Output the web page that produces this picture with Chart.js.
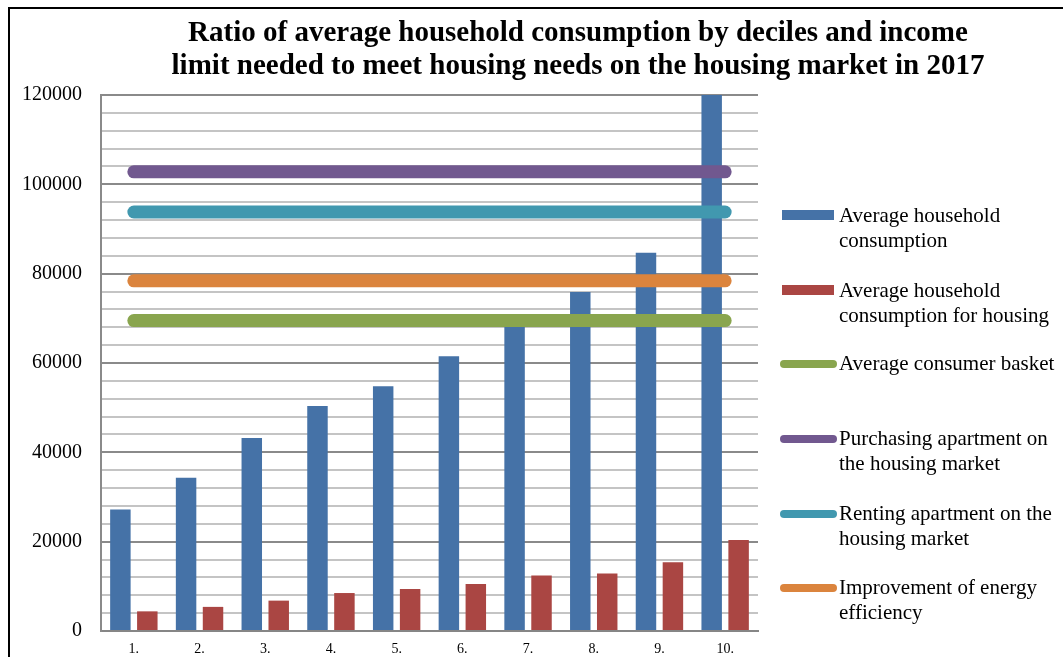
<!DOCTYPE html>
<html>
<head>
<meta charset="utf-8">
<script src="https://cdn.jsdelivr.net/npm/chart.js@4"></script>
<style>
html,body{margin:0;padding:0;background:#fff;}
#wrap{position:relative;width:1063px;height:657px;overflow:hidden;background:#fff;}
#c{position:absolute;left:0;top:0;}
#border{position:absolute;left:8px;top:7px;width:1200px;height:800px;border-left:2px solid #000;border-top:2px solid #000;box-sizing:border-box;pointer-events:none;}
#title{position:absolute;left:78px;width:1000px;top:15px;text-align:center;font-family:"Liberation Serif","Times New Roman",serif;font-weight:bold;font-size:29px;line-height:33px;color:#000;}
#legend{position:absolute;left:778px;top:0;width:290px;font-family:"Liberation Serif","Times New Roman",serif;font-size:21px;line-height:25px;color:#000;}
.li{position:absolute;left:0;width:290px;}
.sw{position:absolute;left:4px;width:52px;}
.tx{position:absolute;left:61px;white-space:nowrap;}
</style>
</head>
<body>
<div id="wrap">
<canvas id="c" width="1063" height="657"></canvas>
<div id="border"></div>
<div id="title">Ratio of average household consumption by deciles and income<br>limit needed to meet housing needs on the housing market in 2017</div>
<div id="legend"></div>
</div>
<script>
const categories = ["1.","2.","3.","4.","5.","6.","7.","8.","9.","10."];
const avgConsumption = [27200,34300,43200,50400,54800,61500,68500,75900,84700,120000];
const housingConsumption = [4400,5400,6800,8500,9400,10500,12400,12900,15400,20400];
const consumerBasket = [69500,69500,69500,69500,69500,69500,69500,69500,69500,69500];
const purchasingApartment = [102800,102800,102800,102800,102800,102800,102800,102800,102800,102800];
const rentingApartment = [93800,93800,93800,93800,93800,93800,93800,93800,93800,93800];
const energyEfficiency = [78400,78400,78400,78400,78400,78400,78400,78400,78400,78400];
const yTickLabels = [0,20000,40000,60000,80000,100000,120000];

const legendLines = [
  ["Average household","consumption"],
  ["Average household","consumption for housing"],
  ["Average consumer basket"],
  ["Purchasing apartment on","the housing market"],
  ["Renting apartment on the","housing market"],
  ["Improvement of energy","efficiency"]
];

function lineDs(label, data, color){
  return {type:'line',label,data,borderColor:color,backgroundColor:color,borderWidth:13,
    borderCapStyle:'round',pointRadius:0,pointHoverRadius:0,fill:false,order:-1,tension:0};
}

const datasets = [
  {type:'bar',label:"Average household consumption",data:avgConsumption,backgroundColor:'#4572A7',
   categoryPercentage:0.82,barPercentage:0.76,order:1},
  {type:'bar',label:"Average household consumption for housing",data:housingConsumption,backgroundColor:'#AA4643',
   categoryPercentage:0.82,barPercentage:0.76,order:1},
  lineDs("Average consumer basket",consumerBasket,'#89A54E'),
  lineDs("Purchasing apartment on the housing market",purchasingApartment,'#71588F'),
  lineDs("Renting apartment on the housing market",rentingApartment,'#4198AF'),
  lineDs("Improvement of energy efficiency",energyEfficiency,'#DB843D')
];

const chart = new Chart(document.getElementById('c'),{
  data:{labels:categories,datasets},
  options:{
    responsive:false,animation:false,
    layout:{padding:{left:0,top:95,right:305,bottom:0}},
    plugins:{legend:{display:false},title:{display:false},tooltip:{enabled:false}},
    scales:{
      x:{
        grid:{display:false,drawTicks:false},
        border:{display:true,color:'#868686',width:2},
        ticks:{color:'#000',font:{family:"'Liberation Serif','Times New Roman',serif",size:14},padding:10,maxRotation:0},
        afterFit(s){s.height=26;s.paddingLeft=0;s.paddingRight=0;s.paddingTop=0;s.paddingBottom=0;}
      },
      y:{
        min:0,max:120000,
        grid:{drawTicks:false,lineWidth:2,color(ctx){const v=ctx.tick&&ctx.tick.value;return (v%20000===0)?'#8a8a8a':'#c4c4c4';}},
        border:{display:true,color:'#8a8a8a',width:2},
        ticks:{stepSize:4000,maxTicksLimit:100,autoSkip:false,color:'#000',padding:19,
          font:{family:"'Liberation Serif','Times New Roman',serif",size:20},
          callback(v){return yTickLabels.includes(v)?String(v):'';}},
        afterFit(s){s.width=101;s.paddingTop=0;s.paddingBottom=0;s.paddingLeft=0;s.paddingRight=0;}
      }
    }
  }
});

const leg=document.getElementById('legend');
const tops=[203,278,351,426,501,575];
datasets.forEach((d,i)=>{
  const li=document.createElement('div');li.className='li';li.style.top=tops[i]+'px';
  const sw=document.createElement('div');sw.className='sw';
  if(d.type==='bar'){sw.style.top='7px';sw.style.height='10px';sw.style.background=d.backgroundColor;}
  else{sw.style.top='9px';sw.style.height='8px';sw.style.borderRadius='4px';sw.style.background=d.borderColor;sw.style.left='2px';sw.style.width='57px';}
  const tx=document.createElement('div');tx.className='tx';
  tx.innerHTML=legendLines[i].join('<br>');
  li.appendChild(sw);li.appendChild(tx);leg.appendChild(li);
});
</script>
</body>
</html>
